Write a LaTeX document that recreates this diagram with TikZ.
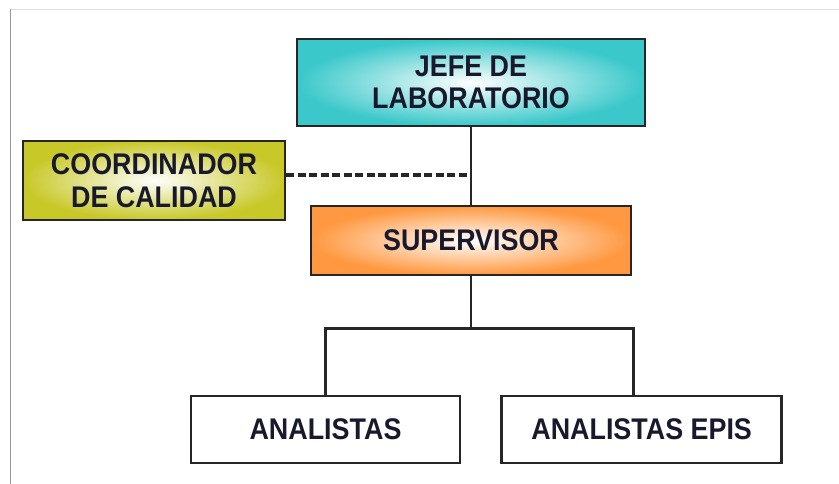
\documentclass[tikz,border=0pt]{standalone}
\usepackage{fontspec}
\setmainfont{Liberation Sans}[FakeStretch=0.9]
\usepackage{xcolor}
\usepackage{tikz}
\usetikzlibrary{positioning}

\definecolor{jefecol}{RGB}{58,200,202}
\definecolor{coordcol}{RGB}{200,200,40}
\definecolor{supcol}{RGB}{255,152,64}
\definecolor{textcol}{RGB}{25,25,45}

\begin{document}
\begin{tikzpicture}[
    cargo/.style={draw=black!85, line width=1.5pt, minimum width=#1, align=center, text=textcol,
        font=\bfseries\fontsize{17}{18.5}\selectfont},
    enlace/.style={draw=black!85, line width=1.4pt}
]
        \useasboundingbox (0,0) rectangle (16.78,-9.68);
        % page frame
        \draw[black!12, line width=0.8pt] (0.21,-0.19) -- (16.78,-0.19);
        \draw[black!40, line width=0.8pt] (0.21,-0.19) -- (0.21,-9.68);

        % Jefe
        \node[cargo=6.96cm, minimum height=1.74cm, shading=radial, inner color=white, outer color=jefecol] (jefe) at (9.42,-1.65) {JEFE DE\\LABORATORIO};

        % Coordinador
        \node[cargo=5.24cm, minimum height=1.58cm, shading=radial, inner color=white, outer color=coordcol] (coord) at (3.08,-3.61) {COORDINADOR\\DE CALIDAD};

        % Supervisor
        \node[cargo=6.4cm, minimum height=1.38cm, shading=radial, inner color=white, outer color=supcol] (sup) at (9.42,-4.81) {SUPERVISOR};

        % Analistas
        \node[cargo=5.38cm, minimum height=1.34cm, fill=white] (ana) at (6.51,-8.59) {ANALISTAS};
        \node[cargo=5.6cm, minimum height=1.34cm, fill=white, right=0.78cm of ana] (epis) {ANALISTAS EPIS};

        % Lines
        \draw[enlace] (jefe.south) -- (sup.north);
        \draw[enlace, line width=2pt, dash pattern=on 0.16cm off 0.07cm] ([yshift=0.11cm]coord.east) -- ([yshift=0.11cm]coord.east -| jefe.south);
        \draw[enlace] (sup.south) -- ++(0,-1.04) -| (ana.north);
        \draw[enlace] (sup.south) -- ++(0,-1.04) -| ([xshift=-0.16cm]epis.north);
    \end{tikzpicture}
\end{document}
